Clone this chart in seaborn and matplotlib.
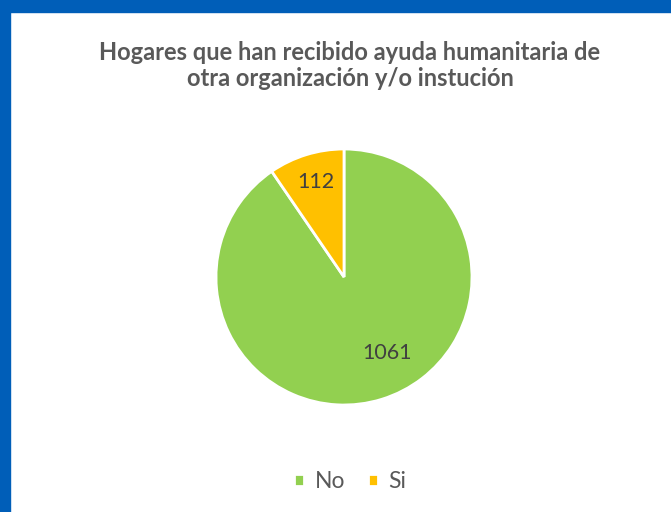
import matplotlib
matplotlib.use("Agg")
import matplotlib.pyplot as plt
import seaborn as sns
from matplotlib.patches import Rectangle

# data
categories = ["No", "Si"]
values = [1061, 112]
colors = ["#92D050", "#FFC000"]
title = "Hogares que han recibido ayuda humanitaria de\notra organización y/o instución"

sns.set_theme(style="white")
plt.rcParams["font.family"] = ["Lato", "DejaVu Sans"]

fig = plt.figure(figsize=(6.71, 5.12), dpi=100)
fig.patch.set_facecolor("white")

# blue frame on top and left
fig.patches.append(Rectangle((0, 1 - 12 / 512), 1, 12 / 512, transform=fig.transFigure,
                             color="#005EB8", zorder=0))
fig.patches.append(Rectangle((0, 0), 10 / 671, 1, transform=fig.transFigure,
                             color="#005EB8", zorder=0))

ax = fig.add_axes([(344 - 128) / 671, (512 - 277 - 128) / 512, 256 / 671, 256 / 512])

def fmt(pct):
    return f"{round(pct * sum(values) / 100):d}"

wedges, texts, autotexts = ax.pie(values, colors=colors, startangle=90, counterclock=False,
                                  autopct=fmt, pctdistance=0.72,
                                  wedgeprops=dict(edgecolor="white", linewidth=2),
                                  textprops=dict(fontsize=15.5, color="#404040"))
ax.set_xlim(-1, 1)
ax.set_ylim(-1, 1)
ax.set_aspect("equal")

# label placement like the original (Excel puts them off the bisector)
autotexts[0].set_position((0.34, -0.59))
autotexts[1].set_position((-0.22, 0.74))

fig.text(0.5216, 0.872, title, ha="center", va="center", fontsize=17, fontweight="bold",
         color="#595959", linespacing=1.2)

fig.legend(wedges, categories, loc="center", bbox_to_anchor=(0.522, 0.059), ncol=2,
           frameon=False, fontsize=16.5, handlelength=0.45, handleheight=0.45,
           handletextpad=0.45, columnspacing=1.0, labelcolor="#595959")

fig.savefig("out.png", dpi=100)
